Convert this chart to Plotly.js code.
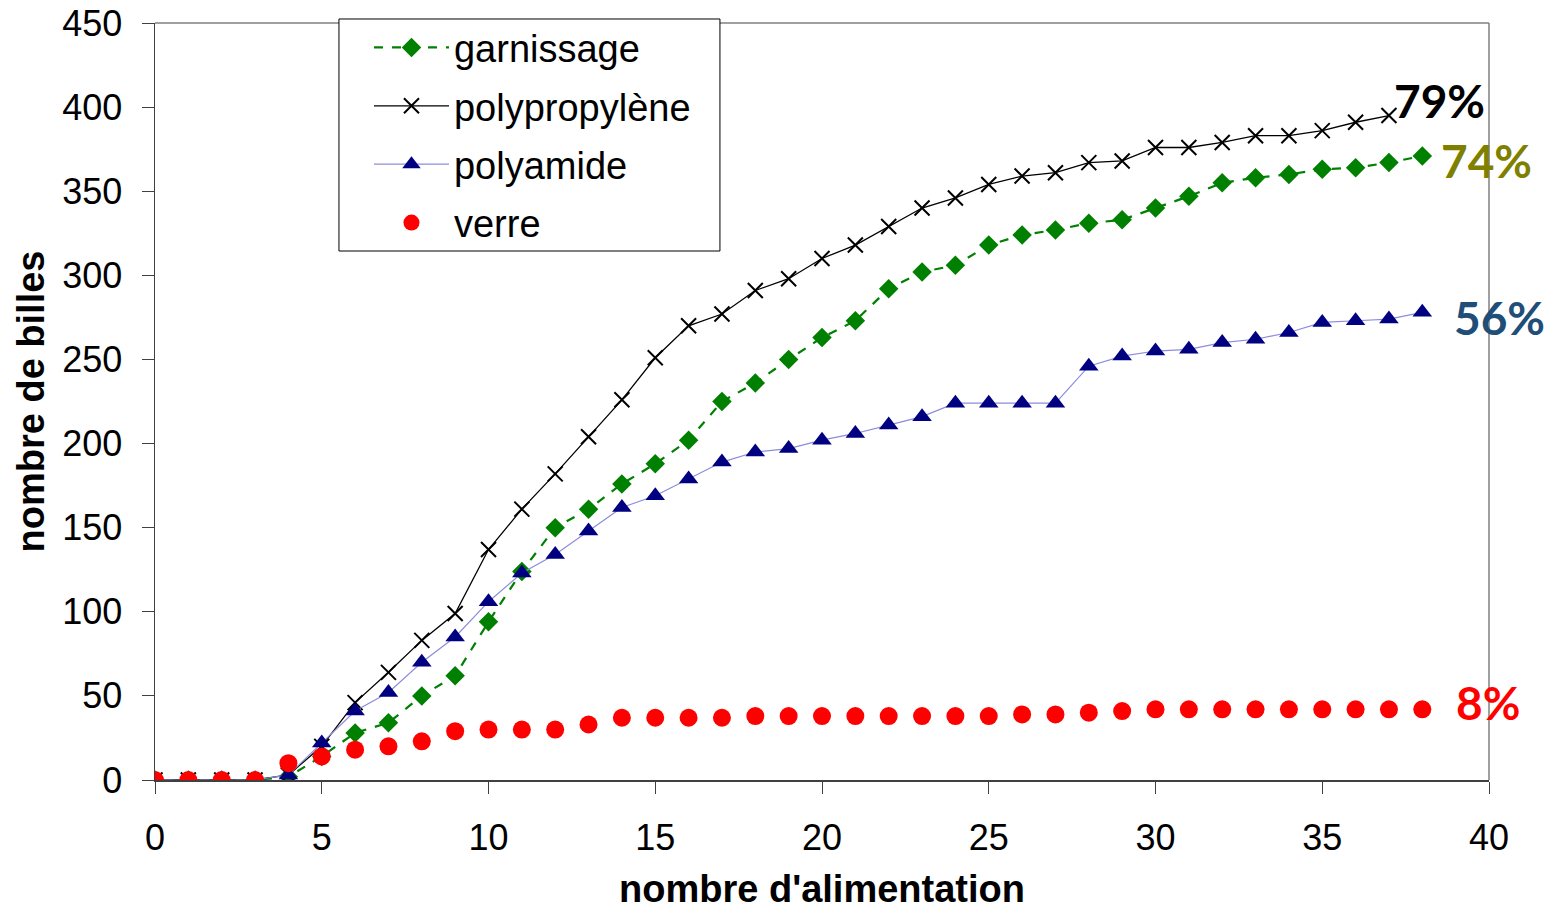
<!DOCTYPE html>
<html>
<head>
<meta charset="utf-8">
<script src="https://cdn.plot.ly/plotly-3.0.1.min.js"></script>
<style>html,body{margin:0;padding:0;background:#fff;}#chart{width:1562px;height:910px;}</style>
</head>
<body>
<div id="chart"></div>
<script>
const seriesNames = ["garnissage", "polypropylène", "polyamide", "verre"];

const xGarnissage = [0,1,2,3,4,5,6,7,8,9,10,11,12,13,14,15,16,17,18,19,20,21,22,23,24,25,26,27,28,29,30,31,32,33,34,35,36,37,38];
const yGarnissage = [0,0,0,0,2,14,28,34,50,62,94,124,150,161,176,188,202,225,236,250,263,273,292,302,306,318,324,327,331,333,340,347,355,358,360,363,364,367,371];

const xPolypropylene = [0,1,2,3,4,5,6,7,8,9,10,11,12,13,14,15,16,17,18,19,20,21,22,23,24,25,26,27,28,29,30,31,32,33,34,35,36,37];
const yPolypropylene = [0,0,0,0,3,20,46,64,83,99,137,161,182,204,226,251,270,277,291,298,310,318,329,340,346,354,359,361,367,368,376,376,379,383,383,386,391,395];

const xPolyamide = [0,1,2,3,4,5,6,7,8,9,10,11,12,13,14,15,16,17,18,19,20,21,22,23,24,25,26,27,28,29,30,31,32,33,34,35,36,37,38];
const yPolyamide = [0,0,0,0,3,22,41,52,70,85,106,123,134,148,162,169,179,189,195,197,202,206,211,216,224,224,224,224,246,252,255,256,260,262,266,272,273,274,278];

const xVerre = [0,1,2,3,4,5,6,7,8,9,10,11,12,13,14,15,16,17,18,19,20,21,22,23,24,25,26,27,28,29,30,31,32,33,34,35,36,37,38];
const yVerre = [0,0,0,0,10,14,18,20,23,29,30,30,30,33,37,37,37,37,38,38,38,38,38,38,38,38,39,39,40,41,42,42,42,42,42,42,42,42,42];

const pctLabels = ["79%", "74%", "56%", "8%"];
const pctX = [37.1, 38.5, 38.9, 38.95];
const pctY = [404, 368, 275, 46];
const pctColors = ["#000000", "#808000", "#1F4E79", "#FF0000"];

const traces = [
  {x: xGarnissage, y: yGarnissage, name: seriesNames[0], mode: "lines+markers", legendgroup: "a",
   line: {color: "#008000", width: 2.2, dash: "dash"},
   marker: {symbol: "diamond", size: 15, color: "#008000"}},
  {x: xPolypropylene, y: yPolypropylene, name: seriesNames[1], mode: "lines+markers", legendgroup: "b",
   line: {color: "#000000", width: 1.3},
   marker: {symbol: "x-thin-open", size: 15, color: "#000000", line: {color: "#000000", width: 2}}},
  {x: xPolyamide, y: yPolyamide, name: seriesNames[2], mode: "lines+markers", legendgroup: "c",
   line: {color: "#8c8cdc", width: 1.2},
   marker: {symbol: "triangle-up", size: 17, color: "#000080"}},
  {x: xVerre, y: yVerre, name: seriesNames[3], mode: "markers", legendgroup: "d",
   marker: {symbol: "circle", size: 18, color: "#FF0000"}}
];

const annotations = pctLabels.map((t, i) => ({
  x: pctX[i], y: pctY[i], xref: "x", yref: "y", text: t, showarrow: false,
  xanchor: "left", yanchor: "middle",
  font: {family: "Lato, 'Open Sans', sans-serif", size: 46, color: pctColors[i], weight: 700}
}));

const layout = {
  width: 1562, height: 910,
  margin: {l: 155, r: 73, t: 23, b: 130},
  paper_bgcolor: "#ffffff", plot_bgcolor: "#ffffff",
  font: {family: "Liberation Sans, Arial, sans-serif", size: 36, color: "#000"},
  showlegend: true,
  legend: {
    x: 0.1604, y: 1.009, xanchor: "left", yanchor: "top",
    bgcolor: "rgba(0,0,0,0)", bordercolor: "rgba(0,0,0,0)", borderwidth: 0,
    font: {family: "Liberation Sans, Arial, sans-serif", size: 38, color: "#000"},
    traceorder: "grouped", tracegroupgap: 6, itemwidth: 75
  },
  xaxis: {
    range: [0, 40], dtick: 5, tick0: 0, showgrid: false, zeroline: false,
    showline: true, linecolor: "#404040", linewidth: 1.5, mirror: false,
    ticks: "outside", ticklen: 12, tickcolor: "#404040", ticklabelstandoff: 13,
    tickfont: {size: 36},
    title: {text: "<b>nombre d'alimentation</b>", font: {size: 38}, standoff: 20}
  },
  yaxis: {
    range: [0, 450], dtick: 50, tick0: 0, showgrid: false, zeroline: false,
    showline: true, linecolor: "#404040", linewidth: 1.5,
    ticks: "outside", ticklen: 12, tickcolor: "#404040", ticklabelstandoff: 12,
    tickfont: {size: 36},
    title: {text: "<b>nombre de billes</b>", font: {size: 38}, standoff: 6}
  },
  shapes: [
    {type: "line", xref: "paper", yref: "paper", x0: 0, x1: 1, y0: 1, y1: 1, line: {color: "#808080", width: 1.5}},
    {type: "line", xref: "paper", yref: "paper", x0: 1, x1: 1, y0: 0, y1: 1, line: {color: "#808080", width: 1.5}},
    {type: "rect", xref: "paper", yref: "paper", x0: 0.1379, x1: 0.4235, y0: 0.6988, y1: 1.0053,
     fillcolor: "#ffffff", line: {color: "#000000", width: 1}, layer: "above"}
  ],
  annotations: annotations
};

Plotly.newPlot("chart", traces, layout, {displayModeBar: false, staticPlot: true});
</script>
</body>
</html>
